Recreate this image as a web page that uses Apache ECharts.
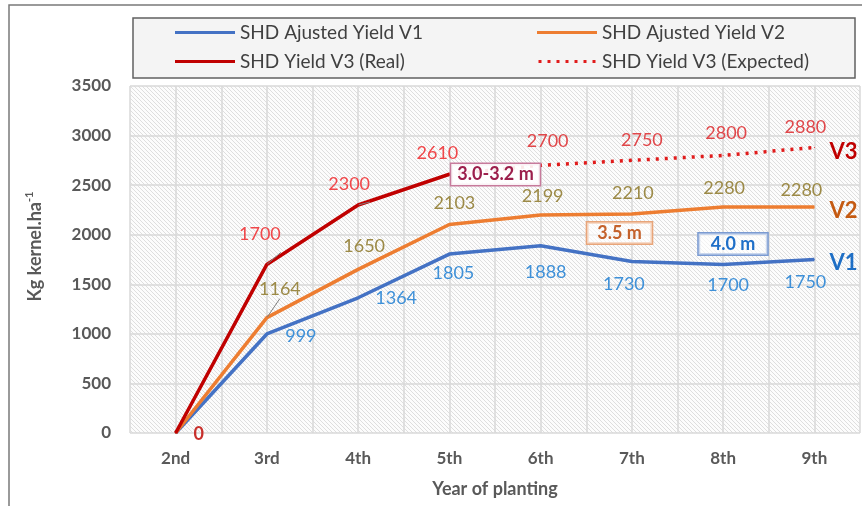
<!DOCTYPE html>
<html>
<head>
<meta charset="utf-8">
<script src="https://cdn.jsdelivr.net/npm/echarts@6/dist/echarts.min.js"></script>
<style>
  html, body { margin: 0; padding: 0; background: #ffffff; }
  #chart { width: 867px; height: 506px; }
</style>
</head>
<body>
<div id="chart"></div>
<script>
// Year of planting (x categories)
const years = ['2nd', '3rd', '4th', '5th', '6th', '7th', '8th', '9th'];
// Yields, kg kernel per ha
const v1Adjusted = [0, 999, 1364, 1805, 1888, 1730, 1700, 1750];
const v2Adjusted = [0, 1164, 1650, 2103, 2199, 2210, 2280, 2280];
const v3Real = [0, 1700, 2300, 2610, null, null, null, null];
const v3Expected = [null, null, null, null, 2700, 2750, 2800, 2880];
// Y axis ticks
const yMin = 0, yMax = 3500, yStep = 500;

// Series names
const names = {
  v1: 'SHD Ajusted Yield V1',
  v2: 'SHD Ajusted Yield V2',
  v3r: 'SHD Yield V3 (Real)',
  v3e: 'SHD Yield V3 (Expected)'
};

// Label offsets (pixels from each point)
const offV1 = [[0, 0], [34, 2], [38, 0], [4, 19], [5, 26], [-8, 23], [5, 21], [-9, 23]];
const offV2 = [[0, 0], [13, -28], [6, -23], [5, -21], [2, -19], [1, -21], [1, -19], [-13, -17]];
const offV3r = [[23, 1], [-7, -30], [-9, -21], [-12, -21]];
const offV3e = [[0, 0], [0, 0], [0, 0], [0, 0], [7, -24], [10, -20], [3, -22], [-9, -20]];
// labels drawn with a small guide tick
const guideV2 = [1];
const guideV3r = [1, 2];

const FONT = 'Lato, "Open Sans", sans-serif';

// Diagonal hatch used as plot background
function hatch() {
  const c = document.createElement('canvas');
  c.width = 4; c.height = 4;
  const g = c.getContext('2d');
  g.fillStyle = '#fcfcfc';
  g.fillRect(0, 0, 4, 4);
  g.strokeStyle = '#dedede';
  g.lineWidth = 1;
  g.beginPath();
  g.moveTo(-1, -1); g.lineTo(5, 5);
  g.moveTo(-1, 3); g.lineTo(1, 5);
  g.moveTo(3, -1); g.lineTo(5, 1);
  g.stroke();
  return c;
}

function labelled(values, offsets, guides) {
  return values.map((v, i) => {
    if (v === null) return null;
    const lab = { offset: offsets[i] || [0, 0] };
    if (v === 0) { lab.color = '#c8302c'; lab.fontWeight = 'bold'; }
    const item = { value: v, label: lab };
    if (guides && guides.indexOf(i) >= 0) {
      item.labelLine = { show: true, lineStyle: { color: '#7f7f7f', width: 1 } };
    }
    return item;
  });
}

// expected line continues from the last real value
const joinIdx = v3Real.reduce((a, v, i) => (v !== null ? i : a), 0);
const v3ExpectedLine = v3Expected.map((v, i) => (i === joinIdx ? v3Real[i] : v));

const dataLabel = (color) => ({
  show: true, position: 'inside', fontFamily: FONT, fontSize: 18, color: color
});

const solidIcon = 'path://M0,0H60V3H0Z';
const dotIcon = 'path://M0,0h3v3h-3z M9,0h3v3h-3z M18,0h3v3h-3z M27,0h3v3h-3z M36,0h3v3h-3z M45,0h3v3h-3z M54,0h3v3h-3z';

const legendBase = {
  orient: 'vertical', itemWidth: 60, itemHeight: 3, itemGap: 10, z: 5, padding: 0,
  textStyle: { fontFamily: FONT, fontSize: 19, color: '#404040' },
  selectedMode: false
};

const chart = echarts.init(document.getElementById('chart'), null, { renderer: 'canvas' });
chart.setOption({
  animation: false,
  backgroundColor: '#ffffff',
  textStyle: { fontFamily: FONT },
  legend: [
    Object.assign({ left: 175, top: 23, data: [{ name: names.v1, icon: solidIcon }, { name: names.v3r, icon: solidIcon }] }, legendBase),
    Object.assign({ left: 537, top: 23, data: [{ name: names.v2, icon: solidIcon }, { name: names.v3e, icon: dotIcon }] }, legendBase)
  ],
  grid: {
    left: 130, right: 7, top: 86, bottom: 73,
    show: true, borderWidth: 0,
    backgroundColor: { image: hatch(), repeat: 'repeat' }
  },
  xAxis: [{
    type: 'category', data: years, boundaryGap: true,
    axisLine: { show: false }, axisTick: { show: false },
    axisLabel: { fontFamily: FONT, fontSize: 17, fontWeight: 'bold', color: '#595959', margin: 17 },
    name: 'Year of planting', nameLocation: 'middle', nameGap: 47,
    nameTextStyle: { fontFamily: FONT, fontSize: 18, fontWeight: 'bold', color: '#595959' },
    splitLine: { show: false }
  }, {
    // half-category grid columns
    type: 'value', min: 0, max: years.length * 2, interval: 1, position: 'bottom',
    axisLine: { show: false }, axisTick: { show: false }, axisLabel: { show: false },
    splitLine: { show: true, lineStyle: { color: '#d9d9d9', width: 1.5 } }
  }],
  yAxis: {
    type: 'value', min: yMin, max: yMax, interval: yStep,
    axisLine: { show: false }, axisTick: { show: false },
    axisLabel: { fontFamily: FONT, fontSize: 17, fontWeight: 'bold', color: '#595959', margin: 19, formatter: (v) => String(v) },
    splitLine: { show: true, lineStyle: { color: '#d9d9d9', width: 1.5 } },
    name: '{n|Kg kernel.ha}{s|-1}', nameLocation: 'middle', nameGap: 84,
    nameTextStyle: {
      padding: [0, 0, 0, 26],
      rich: {
        n: { fontFamily: FONT, fontSize: 18, fontWeight: 'bold', color: '#595959', lineHeight: 22 },
        s: { fontFamily: FONT, fontSize: 11, fontWeight: 'bold', color: '#595959', lineHeight: 22, verticalAlign: 'top' }
      }
    }
  },
  series: [
    {
      name: names.v1, type: 'line', xAxisIndex: 0,
      data: labelled(v1Adjusted, offV1),
      symbol: 'circle', symbolSize: 1, showSymbol: true,
      itemStyle: { color: '#4472c4' },
      lineStyle: { color: '#4472c4', width: 3.5 },
      label: Object.assign(dataLabel('#3e90d8'), { formatter: (p) => p.dataIndex === 0 ? '' : p.value }),
      endLabel: { show: true, formatter: 'V1', fontFamily: FONT, fontSize: 22, fontWeight: 'bold', color: '#1f6fc5', distance: 15, offset: [0, 3] },
      z: 3
    },
    {
      name: names.v2, type: 'line', xAxisIndex: 0,
      data: labelled(v2Adjusted, offV2, guideV2),
      symbol: 'circle', symbolSize: 1, showSymbol: true,
      itemStyle: { color: '#ed7d31' },
      lineStyle: { color: '#ed7d31', width: 3.5 },
      label: Object.assign(dataLabel('#9c8a47'), { formatter: (p) => p.dataIndex === 0 ? '' : p.value }),
      endLabel: { show: true, formatter: 'V2', fontFamily: FONT, fontSize: 22, fontWeight: 'bold', color: '#c55a11', distance: 15, offset: [0, 4] },
      z: 3
    },
    {
      name: names.v3r, type: 'line', xAxisIndex: 0,
      data: labelled(v3Real, offV3r, guideV3r),
      symbol: 'circle', symbolSize: 1, showSymbol: true,
      itemStyle: { color: '#c00000' },
      lineStyle: { color: '#c00000', width: 3.5 },
      label: dataLabel('#f0474a'),
      z: 4
    },
    {
      name: names.v3e, type: 'line', xAxisIndex: 0,
      data: v3ExpectedLine.map((v, i) => v === null ? null : {
        value: v,
        label: { show: v3Expected[i] !== null, offset: offV3e[i] }
      }),
      symbol: 'circle', symbolSize: 1, showSymbol: true,
      itemStyle: { color: '#e01b1b' },
      lineStyle: { color: '#e01b1b', width: 3.5, type: [3, 6] },
      label: dataLabel('#e0474a'),
      endLabel: { show: true, formatter: 'V3', fontFamily: FONT, fontSize: 22, fontWeight: 'bold', color: '#c00000', distance: 15, offset: [0, 4] },
      z: 4
    }
  ],
  graphic: [
    // outer frame
    { type: 'polyline', z: 1, shape: { points: [[9, 506], [9, 5], [862, 5]] }, style: { stroke: '#7a7a7a', lineWidth: 1.5, fill: null } },
    // legend box
    { type: 'rect', z: 1, shape: { x: 133, y: 18, width: 722, height: 60 }, style: { fill: '#f4f4f4', stroke: '#606060', lineWidth: 1.5 } },
    // spacing annotations
    { type: 'text', z: 10, x: 495.5, y: 174.5, style: {
        text: '3.0-3.2 m', align: 'center', verticalAlign: 'middle',
        font: 'bold 18px ' + FONT, fill: '#9c1f4c',
        backgroundColor: 'rgba(255,255,255,0.9)', borderColor: '#c77b9c', borderWidth: 1.5, padding: [2, 6, 1, 6]
    } },
    { type: 'text', z: 10, x: 619.5, y: 233, style: {
        text: '3.5 m', align: 'center', verticalAlign: 'middle',
        font: 'bold 18px ' + FONT, fill: '#c4622c',
        backgroundColor: 'rgba(255,255,255,0.6)', borderColor: '#e8a57a', borderWidth: 1.5, padding: [2, 10, 1, 10]
    } },
    { type: 'text', z: 10, x: 733, y: 244, style: {
        text: '4.0 m', align: 'center', verticalAlign: 'middle',
        font: 'bold 18px ' + FONT, fill: '#1f6fc8',
        backgroundColor: 'rgba(255,255,255,0.6)', borderColor: '#7b9bd2', borderWidth: 1.5, padding: [2, 12, 1, 12]
    } }
  ]
});
</script>
</body>
</html>
